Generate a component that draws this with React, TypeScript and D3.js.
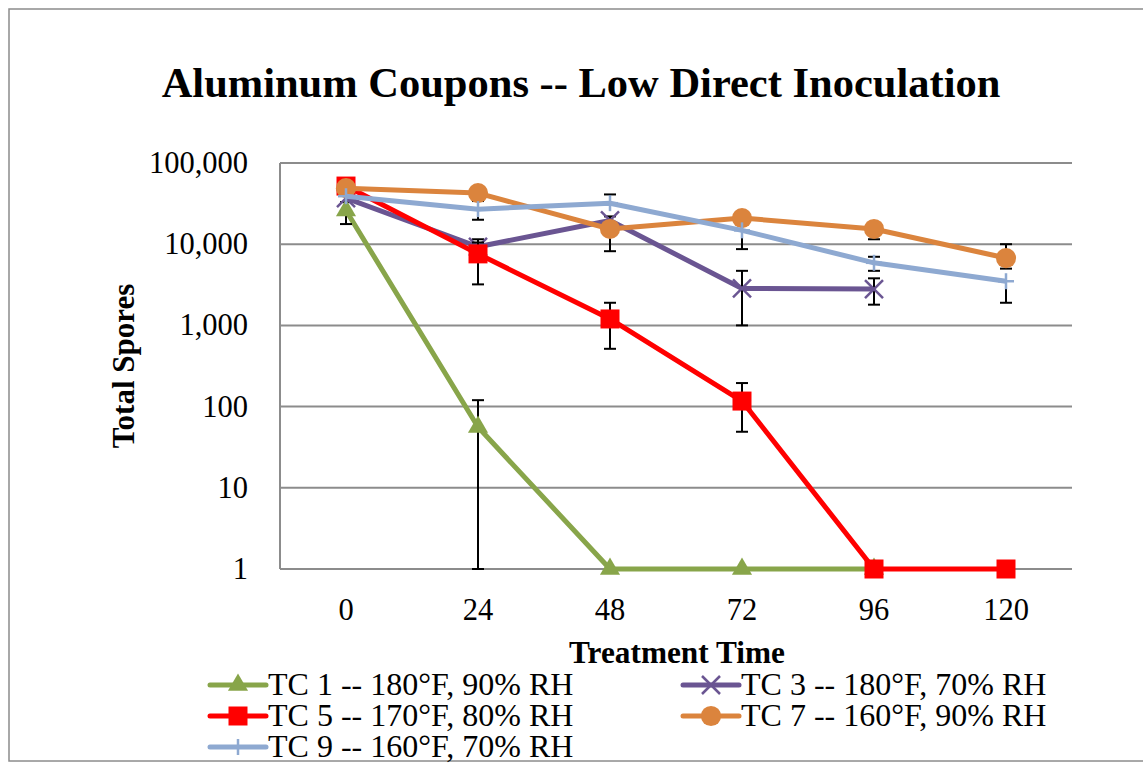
import React from 'react';
import * as d3 from 'd3';

const categories = ['0', '24', '48', '72', '96', '120'];
const yTicks = [1, 10, 100, 1000, 10000, 100000];
const seriesNames = [
  'TC 1 -- 180°F, 90% RH',
  'TC 3 -- 180°F, 70% RH',
  'TC 5 -- 170°F, 80% RH',
  'TC 7 -- 160°F, 90% RH',
  'TC 9 -- 160°F, 70% RH',
];
const seriesColors = ['#88A54A', '#6A5592', '#FF0000', '#DB843D', '#8EA9D1'];
const seriesMarkers = ['triangle', 'x', 'square', 'circle', 'plus'];

const tc1Values = [26000, 56, 1, 1, 1, null];
const tc1High = [33000, 120, null, null, null, null];
const tc1Low = [17700, 1, null, null, null, null];

const tc3Values = [37000, 9300, 19600, 2850, 2800, null];
const tc3High = [null, 11500, 22000, 4700, 3800, null];
const tc3Low = [null, null, null, 1000, 1800, null];

const tc5Values = [52000, 7600, 1200, 117, 1, 1];
const tc5High = [null, 10500, 1900, 195, null, null];
const tc5Low = [null, 3200, 515, 49, null, null];

const tc7Values = [49000, 42600, 15400, 21000, 15400, 6750];
const tc7High = [null, null, null, null, null, 10000];
const tc7Low = [null, 34000, 8200, null, 11500, 5000];

const tc9Values = [39000, 27000, 32000, 14800, 5900, 3500];
const tc9High = [null, null, 41000, null, 7000, null];
const tc9Low = [null, 20000, null, 8700, 4700, 1900];

const allValues = [tc1Values, tc3Values, tc5Values, tc7Values, tc9Values];
const allHigh = [tc1High, tc3High, tc5High, tc7High, tc9High];
const allLow = [tc1Low, tc3Low, tc5Low, tc7Low, tc9Low];

const W = 1143;
const H = 763;
const plotLeft = 280;
const plotRight = 1072;
const plotTop = 163;
const plotBottom = 569;
const FONT = "'Liberation Serif', 'Times New Roman', serif";

function Marker({ kind, color, x, y }: { kind: string; color: string; x: number; y: number }) {
  if (kind === 'triangle') {
    const p = d3.symbol().type(d3.symbolTriangle).size(175)();
    return <path d={p || ''} transform={`translate(${x},${y})`} fill={color} />;
  }
  if (kind === 'square') {
    const p = d3.symbol().type(d3.symbolSquare).size(361)();
    return <path d={p || ''} transform={`translate(${x},${y})`} fill={color} />;
  }
  if (kind === 'circle') {
    const p = d3.symbol().type(d3.symbolCircle).size(320)();
    return <path d={p || ''} transform={`translate(${x},${y})`} fill={color} />;
  }
  if (kind === 'x') {
    const s = 9;
    return (
      <g transform={`translate(${x},${y})`} stroke={color} strokeWidth={2.5}>
        <line x1={-s} y1={-s} x2={s} y2={s} />
        <line x1={-s} y1={s} x2={s} y2={-s} />
      </g>
    );
  }
  const s = 8;
  return (
    <g transform={`translate(${x},${y})`} stroke={color} strokeWidth={2.5}>
      <line x1={-s} y1={0} x2={s} y2={0} />
      <line x1={0} y1={-s} x2={0} y2={s} />
    </g>
  );
}

export default function App() {
  const x = d3.scalePoint<string>().domain(categories).range([plotLeft, plotRight]).padding(0.5);
  const y = d3.scaleLog().domain([1, 100000]).range([plotBottom, plotTop]);
  const fmt = d3.format(',');

  const lineGen = d3
    .line<[string, number | null]>()
    .defined((d) => d[1] != null)
    .x((d) => x(d[0]) as number)
    .y((d) => y(d[1] as number));

  const legendPos = [
    { lx: 210, ty: 695 },
    { lx: 683, ty: 695 },
    { lx: 210, ty: 726 },
    { lx: 683, ty: 726 },
    { lx: 210, ty: 757 },
  ];

  return (
    <svg width={W} height={H} style={{ position: 'absolute', left: 0, top: 0, background: '#fff' }}>
      <rect x={9} y={9} width={1200} height={752} fill="#fff" stroke="#8C8C8C" strokeWidth={1.5} />
      <text x={581} y={97} textAnchor="middle" fontFamily={FONT} fontWeight="bold" fontSize={42.5}>
        Aluminum Coupons -- Low Direct Inoculation
      </text>

      {yTicks.map((t) => (
        <g key={t}>
          <line x1={plotLeft} x2={plotRight} y1={y(t)} y2={y(t)} stroke="#8C8C8C" strokeWidth={2} />
          <text x={248} y={y(t) + 10} textAnchor="end" fontFamily={FONT} fontSize={30.5}>
            {fmt(t)}
          </text>
        </g>
      ))}
      <line x1={plotLeft} x2={plotLeft} y1={plotTop} y2={plotBottom} stroke="#8C8C8C" strokeWidth={2} />

      {categories.map((c) => (
        <text key={c} x={x(c) as number} y={620} textAnchor="middle" fontFamily={FONT} fontSize={30.5}>
          {c}
        </text>
      ))}
      <text x={677} y={663} textAnchor="middle" fontFamily={FONT} fontWeight="bold" fontSize={31.3}>
        Treatment Time
      </text>
      <text
        transform={`translate(134,${(plotTop + plotBottom) / 2}) rotate(-90)`}
        textAnchor="middle"
        fontFamily={FONT}
        fontWeight="bold"
        fontSize={31}
      >
        Total Spores
      </text>

      {allValues.map((vals, si) => {
        const pairs = categories.map((c, i) => [c, vals[i]] as [string, number | null]);
        const color = seriesColors[si];
        return (
          <g key={si}>
            <path d={lineGen(pairs) || ''} fill="none" stroke={color} strokeWidth={5} strokeLinejoin="round" />
            {categories.map((c, i) => {
              const v = vals[i];
              if (v == null) return null;
              const hi = allHigh[si][i];
              const lo = allLow[si][i];
              if (hi == null && lo == null) return null;
              const cx = x(c) as number;
              const yTop = y(hi != null ? hi : v);
              const yBot = y(lo != null ? lo : v);
              return (
                <g key={c} stroke="#000" strokeWidth={2}>
                  <line x1={cx} x2={cx} y1={yTop} y2={yBot} />
                  {hi != null && <line x1={cx - 6} x2={cx + 6} y1={yTop} y2={yTop} />}
                  {lo != null && <line x1={cx - 6} x2={cx + 6} y1={yBot} y2={yBot} />}
                </g>
              );
            })}
            {categories.map((c, i) => {
              const v = vals[i];
              if (v == null) return null;
              return <Marker key={c} kind={seriesMarkers[si]} color={color} x={x(c) as number} y={y(v)} />;
            })}
          </g>
        );
      })}

      {seriesNames.map((name, si) => {
        const p = legendPos[si];
        const ly = p.ty - 10;
        return (
          <g key={name}>
            <line x1={p.lx} x2={p.lx + 56} y1={ly} y2={ly} stroke={seriesColors[si]} strokeWidth={5} strokeLinecap="round" />
            <Marker kind={seriesMarkers[si]} color={seriesColors[si]} x={p.lx + 28} y={ly} />
            <text x={p.lx + 58} y={p.ty} fontFamily={FONT} fontSize={32}>
              {name}
            </text>
          </g>
        );
      })}
    </svg>
  );
}
